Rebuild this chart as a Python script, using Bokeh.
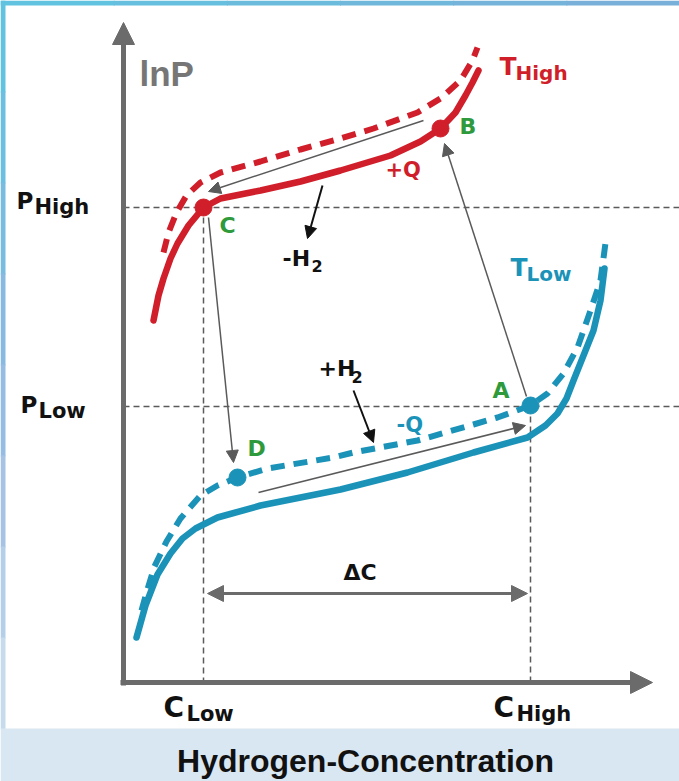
from bokeh.plotting import figure
from bokeh.models import Range1d, Arrow, NormalHead
from bokeh.core.properties import value
from bokeh.embed import file_html
from bokeh.resources import INLINE

W, H = 679, 781

# ---- data (chart units: x = hydrogen concentration, y = lnP, screen-down) ----
th_solid_x = [153, 158, 163, 170, 177, 188, 203, 220, 260, 300, 340, 390, 420, 440, 455, 465, 472, 478]
th_solid_y = [320, 295, 278, 258, 243, 225, 207, 198, 190, 181, 170, 155, 141, 128, 112, 95, 82, 70]
th_dash_x = [163, 168, 176, 186, 200, 220, 260, 300, 340, 373, 417, 440, 460, 472, 477]
th_dash_y = [252, 232, 212, 195, 182, 172, 161, 149, 138, 128, 112, 98, 80, 60, 47]
tl_solid_x = [136, 145, 157, 170, 182, 195, 217, 260, 300, 340, 407, 473, 527, 545, 557, 566, 573, 583, 593, 600, 604]
tl_solid_y = [637, 605, 574, 553, 538, 528, 517, 505, 497, 489, 472, 452, 437, 425, 413, 398, 380, 355, 330, 300, 268]
tl_dash_x = [141, 146, 154, 166, 180, 200, 217, 237, 267, 333, 353, 417, 473, 497, 530, 547, 563, 577, 590, 600, 606]
tl_dash_y = [610, 592, 566, 541, 518, 495, 485, 477, 468, 457, 452, 440, 424, 417, 405, 393, 373, 347, 310, 280, 235]

c_low, c_high = 203, 530
p_high, p_low = 207, 406
pts_red_x, pts_red_y = [203, 440], [207, 128]      # C, B
pts_blue_x, pts_blue_y = [530, 237], [405, 477]    # A, D

axis_x0, axis_y0, axis_xtip, axis_ytip = 123, 682, 652, 22
delta_y = 593

RED = "#d01f2a"
BLUE = "#1b93b8"
GREEN = "#2e9a3c"
GRAY = "#5a5a5a"
AXGRAY = "#6b6b6b"

p = figure(width=W, height=H, output_backend="svg", toolbar_location=None,
           x_range=Range1d(0, W), y_range=Range1d(H, 0), min_border=0)
p.axis.visible = False
p.grid.visible = False
p.outline_line_color = None
p.background_fill_color = "white"
p.border_fill_color = "white"

# ---- background frame ----
top_cols = ["#62c3e0", "#66bfdf", "#6bbbdd", "#70b7dc", "#75b3da", "#79b0d9"]
n = len(top_cols)
for i, c in enumerate(top_cols):
    p.quad(left=W * i / n, right=W * (i + 1) / n + 1, top=0, bottom=5, color=c, line_color=None)
left_cols = ["#62c3e0", "#6cbfe0", "#7abbe0", "#88b9e1", "#97bce3", "#a6c3e6", "#b6cfe9", "#c7dbee"]
m = len(left_cols)
for i, c in enumerate(left_cols):
    p.quad(left=0, right=5, top=728 * i / m, bottom=728 * (i + 1) / m + 1, color=c, line_color=None)
p.quad(left=0, right=W, top=728, bottom=H, color="#d9e7f2", line_color=None)

# ---- guide lines ----
p.line([axis_x0, W], [p_high, p_high], line_color=GRAY, line_width=1.5, line_dash="6 4")
p.line([axis_x0, W], [p_low, p_low], line_color=GRAY, line_width=1.5, line_dash="6 4")
p.line([c_low, c_low], [p_high, axis_y0], line_color=GRAY, line_width=1.5, line_dash="6 4")
p.line([c_high, c_high], [p_low, axis_y0], line_color=GRAY, line_width=1.5, line_dash="6 4")

# ---- axes ----
p.add_layout(Arrow(end=NormalHead(size=22, fill_color=AXGRAY, line_color=AXGRAY),
                   x_start=axis_x0, y_start=axis_y0 + 3, x_end=axis_x0, y_end=axis_ytip,
                   line_color=AXGRAY, line_width=5))
p.add_layout(Arrow(end=NormalHead(size=22, fill_color=AXGRAY, line_color=AXGRAY),
                   x_start=axis_x0 - 3, y_start=axis_y0, x_end=axis_xtip, y_end=axis_y0,
                   line_color=AXGRAY, line_width=5))

# ---- curves ----
p.line(th_solid_x, th_solid_y, line_color=RED, line_width=6.5, line_join="round", line_cap="round")
p.line(th_dash_x, th_dash_y, line_color=RED, line_width=6, line_dash="14 9", line_join="round")
p.line(tl_solid_x, tl_solid_y, line_color=BLUE, line_width=6.5, line_join="round", line_cap="round")
p.line(tl_dash_x, tl_dash_y, line_color=BLUE, line_width=6, line_dash="14 9", line_join="round")

# ---- cycle arrows ----
def arr(x0, y0, x1, y1, color, lw, size):
    p.add_layout(Arrow(end=NormalHead(size=size, fill_color=color, line_color=color),
                       x_start=x0, y_start=y0, x_end=x1, y_end=y1,
                       line_color=color, line_width=lw))

arr(423, 120, 208, 191, GRAY, 1.5, 12)   # B -> C
arr(526, 396, 444, 143, GRAY, 1.5, 12)   # A -> B
arr(208, 217, 233, 462, GRAY, 1.5, 12)   # C -> D
arr(258, 492, 525, 425, GRAY, 1.5, 12)   # D -> A
arr(322, 185, 307, 238, "#111111", 2, 12)  # -H2
arr(353, 390, 373, 442, "#111111", 2, 12)  # +H2

# delta C double arrow
p.add_layout(Arrow(start=NormalHead(size=16, fill_color=AXGRAY, line_color=AXGRAY),
                   end=NormalHead(size=16, fill_color=AXGRAY, line_color=AXGRAY),
                   x_start=c_low + 4, y_start=delta_y, x_end=c_high - 3, y_end=delta_y,
                   line_color=AXGRAY, line_width=3))

# ---- points ----
p.scatter(pts_red_x, pts_red_y, size=17, color=RED)
p.scatter(pts_blue_x, pts_blue_y, size=17, color=BLUE)

# ---- texts ----
def txt(x, y, s, color="#111111", size=22, font="DejaVu Sans", align="left"):
    p.text(x=[x], y=[y], text=[s], text_color=color, text_font=value(font),
           text_font_style="bold", text_font_size=value(f"{size}px"),
           text_baseline="middle", text_align=align)

txt(139, 73, "lnP", "#767676", 35, "Liberation Sans")
txt(16, 200, "P", size=23)
txt(34, 206, "High", size=21)
txt(20, 404, "P", size=23)
txt(38, 410, "Low", size=21)
txt(163, 707, "C", size=28)
txt(186, 713, "Low", size=21)
txt(493, 707, "C", size=28)
txt(516, 713, "High", size=21)
txt(365, 760, "Hydrogen-Concentration", "#111111", 32, "Liberation Sans", "center")

txt(499, 66, "T", RED, 25)
txt(515, 72, "High", RED, 20)
txt(510, 267, "T", BLUE, 25)
txt(526, 273, "Low", BLUE, 20)

txt(459, 126, "B", GREEN, 22)
txt(219, 225, "C", GREEN, 22)
txt(492, 390, "A", GREEN, 22)
txt(247, 448, "D", GREEN, 22)

txt(385, 169, "+Q", RED, 21)
txt(396, 424, "-Q", BLUE, 21)
txt(282, 258, "-H", size=22)
txt(311, 265, "2", size=16)
txt(318, 368, "+H", size=22)
txt(351, 376, "2", size=16)
txt(343, 572, "\u0394C", size=22)

open("out.html", "w").write(file_html(p, INLINE))
